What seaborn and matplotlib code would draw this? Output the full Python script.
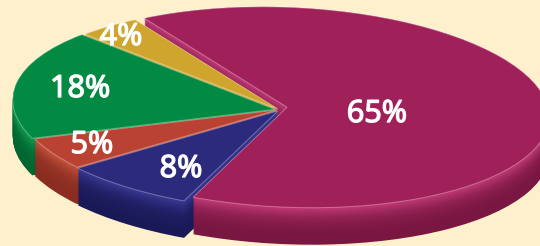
import numpy as np
import matplotlib
matplotlib.use("Agg")
import matplotlib.pyplot as plt
import matplotlib.colors as mcolors
import matplotlib.patheffects as pe
from matplotlib.transforms import Affine2D
import seaborn as sns

# ---- data ----
categories = ["Magenta", "Yellow", "Green", "Red", "Navy"]
shares = [65, 4, 18, 5, 8]
labels = ["65%", "4%", "18%", "5%", "8%"]

# ---- style ----
top_colors = ["#A0215A", "#CFA52D", "#028A43", "#B94232", "#2B2A7C"]
side_dark = ["#7A1642", "#9C761A", "#016530", "#8A2D20", "#1A1958"]
side_light = ["#C43C78", "#D8B040", "#12A052", "#C85540", "#3B3B98"]
offsets = [(0.027, 0.01), (-0.008, -0.01), (-0.02, -0.015), (-0.01, -0.02), (-0.008, -0.03)]
label_xy = [(0.370, -0.14), (-0.607, 0.63), (-0.763, 0.11), (-0.718, -0.45), (-0.378, -0.69)]
start_angle = 123 - 234

bg = "#FEF0CD"
sns.set_theme(style="white", rc={"figure.facecolor": bg, "axes.facecolor": bg})
plt.rcParams["font.family"] = ["Open Sans", "DejaVu Sans"]

fig = plt.figure(figsize=(5.4, 2.46), dpi=100)
ax = fig.add_axes([0, 0, 1, 1])
ax.set_facecolor(bg)

shear = Affine2D.from_values(1, -0.095, 0, 1, 0, 0)

def place(wedges, dz):
    for w, (ox, oy) in zip(wedges, offsets):
        w.set_center((ox, oy - dz))
        w.set_transform(shear + ax.transData)

thickness = 0.37
n_layers = 45
for k in range(n_layers):
    t = k / (n_layers - 1)  # 0 = bottom, 1 = top
    dz = thickness * (1 - t)
    wgt = t ** 3
    cols = [mcolors.to_hex((1 - wgt) * np.array(mcolors.to_rgb(d)) + wgt * np.array(mcolors.to_rgb(l)))
            for d, l in zip(side_dark, side_light)]
    ws, _ = ax.pie(shares, colors=cols, startangle=start_angle, counterclock=True,
                   radius=1.0, wedgeprops=dict(linewidth=0))
    place(ws, dz)

wedges, _ = ax.pie(shares, colors=top_colors, startangle=start_angle, counterclock=True,
                   radius=1.0, wedgeprops=dict(linewidth=0.7, edgecolor="#ffffff50"))
place(wedges, 0.0)

for lab, (x, y) in zip(labels, label_xy):
    ax.text(x, y, lab, ha="center", va="baseline", color="white",
            fontsize=22, fontweight="normal",
            path_effects=[pe.withStroke(linewidth=1.0, foreground="white")])

ax.set_aspect("auto")
ax.set_xlim(-280 / 262, (540 - 280) / 262)
ax.set_ylim(-(246 - 108) / 100, 108 / 100)
ax.axis("off")

fig.savefig("out.png", dpi=100, facecolor=bg)
